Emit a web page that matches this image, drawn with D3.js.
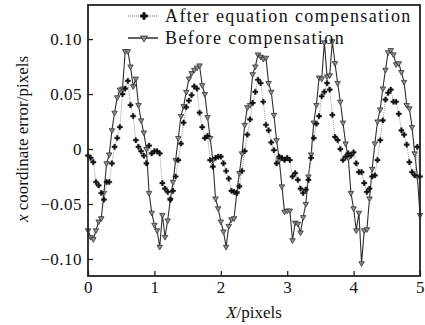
<!DOCTYPE html>
<html>
<head>
<meta charset="utf-8">
<script src="https://cdn.jsdelivr.net/npm/d3@7"></script>
<style>
  body { margin: 0; background: #fff; }
  text { font-family: "Liberation Serif", "Times New Roman", serif; fill: #111; }
</style>
</head>
<body>
<div id="chart"></div>
<script>
// sampled every 0.04 pixel along X, from 0 to 5
const step = 0.04;

const beforeComp = [
  -0.074, -0.080, -0.082, -0.074, -0.066, -0.063, -0.040, -0.013, -0.005, 0.017,
  0.033, 0.047, 0.054, 0.055, 0.089, 0.089, 0.075, 0.057, 0.064, 0.040,
  0.026, 0.015, 0.000, -0.040, -0.058, -0.069, -0.074, -0.089, -0.060, -0.080,
  -0.065, -0.046, -0.030, -0.010, 0.010, 0.030, 0.039, 0.052, 0.064, 0.069,
  0.072, 0.074, 0.076, 0.058, 0.050, 0.029, 0.010, -0.010, -0.045, -0.054,
  -0.066, -0.075, -0.089, -0.070, -0.064, -0.063, -0.040, -0.022, -0.004, 0.022,
  0.038, 0.040, 0.068, 0.075, 0.086, 0.084, 0.082, 0.083, 0.060, 0.052,
  0.031, 0.008, -0.010, -0.034, -0.057, -0.056, -0.056, -0.083, -0.067, -0.068,
  -0.076, -0.062, -0.050, -0.025, -0.005, 0.024, 0.040, 0.065, 0.064, 0.097,
  0.066, 0.067, 0.098, 0.078, 0.060, 0.043, 0.024, 0.005, -0.008, -0.040,
  -0.054, -0.074, -0.058, -0.104, -0.074, -0.073, -0.045, -0.018, 0.005, 0.025,
  0.036, 0.055, 0.072, 0.088, 0.090, 0.086, 0.077, 0.078, 0.070, 0.061,
  0.040, 0.037, 0.020, -0.004, -0.025, -0.060
];

const afterComp = [
  -0.006, -0.008, -0.012, -0.030, -0.033, -0.040, -0.046, -0.030, -0.030, -0.013,
  0.002, 0.010, 0.020, 0.050, 0.055, 0.062, 0.040, 0.030, 0.008, 0.002,
  -0.002, -0.006, -0.013, 0.003, -0.004, -0.002, -0.002, -0.004, -0.031, -0.036,
  -0.039, -0.046, -0.038, -0.025, -0.010, 0.005, 0.024, 0.038, 0.044, 0.049,
  0.057, 0.055, 0.033, 0.020, 0.010, 0.012, -0.010, -0.016, -0.008, -0.007,
  -0.007, -0.013, -0.020, -0.027, -0.038, -0.039, -0.040, -0.034, -0.020, -0.002,
  0.013, 0.027, 0.042, 0.052, 0.063, 0.060, 0.043, 0.022, 0.017, 0.006,
  -0.001, -0.013, -0.007, -0.008, -0.010, -0.008, -0.010, -0.025, -0.022, -0.028,
  -0.036, -0.040, -0.037, -0.028, -0.008, 0.010, 0.023, 0.030, 0.048, 0.052,
  0.060, 0.054, 0.031, 0.011, 0.008, 0.000, -0.010, -0.007, -0.004, -0.006,
  -0.003, -0.013, -0.021, -0.021, -0.031, -0.039, -0.036, -0.025, -0.024, -0.010,
  0.008, 0.026, 0.045, 0.051, 0.054, 0.043, 0.043, 0.032, 0.017, 0.013,
  0.004, -0.012, -0.021, -0.024, 0.002, -0.025
];

const xTicks = [0, 1, 2, 3, 4, 5];
const yTicks = [-0.10, -0.05, 0, 0.05, 0.10];
const legendLabels = ["After equation compensation", "Before compensation"];

const width = 425, height = 325;
const margin = { top: 5, right: 5, bottom: 49, left: 88 };

const x = d3.scaleLinear()
  .domain([0, 5])
  .range([margin.left, width - margin.right]);

const y = d3.scaleLinear()
  .domain([-0.1155, 0.131])
  .range([height - margin.bottom, margin.top]);

const svg = d3.select("#chart")
  .append("svg")
  .attr("width", width)
  .attr("height", height);

const before = beforeComp.map((v, i) => ({ x: i * step, y: v }));
const after = afterComp.map((v, i) => ({ x: i * step, y: v }));

const line = d3.line().x(d => x(d.x)).y(d => y(d.y));

const tri = d3.symbol().type(d3.symbolTriangle).size(13);
const cross = d3.symbol().type(d3.symbolCross).size(15);

let plot = svg.append("g");

// before compensation: solid line, down triangles
plot.append("path")
  .datum(before)
  .attr("fill", "none")
  .attr("stroke", "#2e2e2e")
  .attr("stroke-width", 1.1)
  .attr("d", line);

plot.append("g")
  .selectAll("path")
  .data(before)
  .join("path")
  .attr("d", tri)
  .attr("transform", d => `translate(${x(d.x)},${y(d.y)}) rotate(180)`)
  .attr("fill", "#8c8c8c")
  .attr("stroke", "#333")
  .attr("stroke-width", 0.8);

// after equation compensation: dotted line, dark crosses
plot.append("path")
  .datum(after)
  .attr("fill", "none")
  .attr("stroke", "#999")
  .attr("stroke-width", 1)
  .attr("stroke-dasharray", "1,1")
  .attr("d", line);

plot.append("g")
  .selectAll("path")
  .data(after)
  .join("path")
  .attr("d", cross)
  .attr("transform", d => `translate(${x(d.x)},${y(d.y)})`)
  .attr("fill", "#111")
  .attr("stroke", "#111")
  .attr("stroke-width", 0.4);

// axes, ticks inward
let yAxis = g => g
  .attr("transform", `translate(${margin.left},0)`)
  .call(d3.axisLeft(y).tickValues(yTicks).tickSizeInner(-5).tickSizeOuter(0).tickPadding(6)
    .tickFormat(d => d === 0 ? "0" : d3.format(".2f")(d).replace("-", "\u2212")))
  .call(g => g.select(".domain").remove())
  .attr("font-size", 17);

let xAxis = g => g
  .attr("transform", `translate(0,${height - margin.bottom})`)
  .call(d3.axisBottom(x).tickValues(xTicks).tickSizeInner(-5).tickSizeOuter(0).tickPadding(5)
    .tickFormat(d3.format("d")))
  .call(g => g.select(".domain").remove())
  .attr("font-size", 17);

svg.append("g").call(yAxis);
svg.append("g").call(xAxis);

svg.selectAll(".tick line").attr("stroke", "#222").attr("stroke-width", 1.3);
svg.selectAll(".tick text").attr("fill", "#111").attr("font-family", "Liberation Serif")
  .attr("letter-spacing", 0.5);

// frame
svg.append("rect")
  .attr("x", margin.left)
  .attr("y", margin.top)
  .attr("width", width - margin.left - margin.right)
  .attr("height", height - margin.top - margin.bottom)
  .attr("fill", "none")
  .attr("stroke", "#222")
  .attr("stroke-width", 1.8);

// legend
const legend = svg.append("g").attr("transform", "translate(128,0)");
const legendRows = [
  { label: legendLabels[0], yy: 16, dash: "1,1", stroke: "#999", mark: cross, rot: 0, fill: "#111", ms: "#111" },
  { label: legendLabels[1], yy: 38, dash: null, stroke: "#2e2e2e", mark: tri, rot: 180, fill: "#8c8c8c", ms: "#333" }
];
legendRows.forEach(r => {
  legend.append("line")
    .attr("x1", 0).attr("x2", 30)
    .attr("y1", r.yy).attr("y2", r.yy)
    .attr("stroke", r.stroke)
    .attr("stroke-width", 1.5)
    .attr("stroke-dasharray", r.dash);
  legend.append("path")
    .attr("d", r.mark)
    .attr("transform", `translate(16,${r.yy}) rotate(${r.rot}) scale(1.3)`)
    .attr("fill", r.fill)
    .attr("stroke", r.ms)
    .attr("stroke-width", 0.6);
  legend.append("text")
    .attr("x", 37)
    .attr("y", r.yy + 6)
    .attr("font-size", 18)
    .attr("letter-spacing", 1.4)
    .text(r.label);
});

// axis titles
svg.append("text")
  .attr("x", (margin.left + width - margin.right) / 2)
  .attr("y", 318)
  .attr("text-anchor", "middle")
  .attr("font-size", 17)
  .call(t => {
    t.append("tspan").attr("font-style", "italic").text("X");
    t.append("tspan").text("/pixels");
  });

svg.append("text")
  .attr("transform", `translate(28,${y(0) - 10}) rotate(-90)`)
  .attr("text-anchor", "middle")
  .attr("font-size", 17)
  .call(t => {
    t.append("tspan").attr("font-style", "italic").text("x");
    t.append("tspan").text(" coordinate error/pixels");
  });
</script>
</body>
</html>
